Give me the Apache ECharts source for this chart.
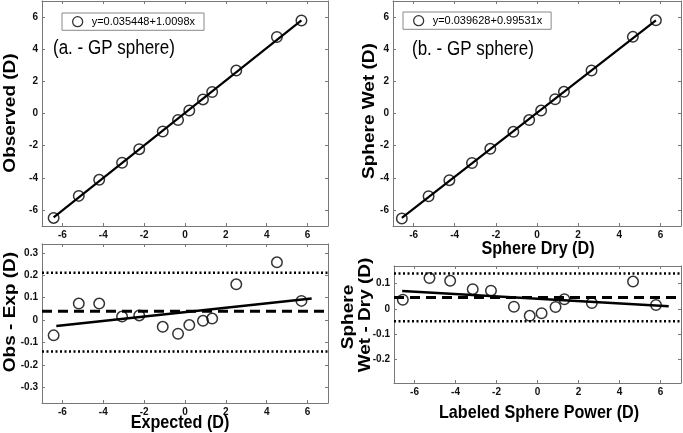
<!DOCTYPE html>
<html><head><meta charset="utf-8">
<script src="https://cdn.jsdelivr.net/npm/echarts@6/dist/echarts.min.js"></script>
<style>html,body{margin:0;padding:0;background:#fff}#c{width:683px;height:433px}</style>
</head><body><div id="c"></div>
<script>
// ---- data ----
const expected    = [-6.43, -5.2, -4.2, -3.08, -2.24, -1.09, -0.34, 0.21, 0.88, 1.33, 2.51, 4.5, 5.7];
const observed    = [-6.498, -5.126, -4.126, -3.064, -2.219, -1.12, -0.401, 0.188, 0.877, 1.337, 2.67, 4.758, 5.786];
const obsMinusExp = [-0.068, 0.074, 0.074, 0.016, 0.021, -0.030, -0.061, -0.022, -0.003, 0.007, 0.160, 0.258, 0.086];
const sphereDry   = [-6.57, -5.27, -4.26, -3.16, -2.27, -1.15, -0.38, 0.2, 0.88, 1.31, 2.65, 4.66, 5.78];
const sphereWet   = [-6.534, -5.148, -4.149, -3.082, -2.198, -1.142, -0.408, 0.182, 0.887, 1.348, 2.673, 4.768, 5.795];
const wetMinusDry = [0.036, 0.122, 0.111, 0.078, 0.072, 0.008, -0.028, -0.018, 0.007, 0.038, 0.023, 0.108, 0.015];
const fitA = [0.035448, 1.0098];   // intercept, slope
const fitB = [0.039628, 0.99531];
const residFitRangeA = [-6.3, 6.2];
const residFitRangeB = [-6.6, 6.4];
const limitsA = [0.04, 0.212, -0.14];   // mean, upper, lower
const limitsB = [0.045, 0.14, -0.05];
const fullRange = [-7, 7];
const ticksMain = [-6, -4, -2, 0, 2, 4, 6];
const ticksResA = [-0.3, -0.2, -0.1, 0, 0.1, 0.2, 0.3];
const ticksResB = [-0.2, -0.1, 0, 0.1];
const resRangeA = [-0.37, 0.34];
const resRangeB = [-0.295, 0.17];
const legendA = 'y=0.035448+1.0098x';
const legendB = 'y=0.039628+0.99531x';

const zip = (a, b) => a.map((v, i) => [v, b[i]]);
const fitLine = (f, x0, x1, off) => [[x0, f[0] + (f[1] - off) * x0], [x1, f[0] + (f[1] - off) * x1]];
const fmt = v => String(Math.round(v * 10) / 10);

const grids = [
  {left: 42, top: 1, width: 286, height: 225},
  {left: 393, top: 1, width: 288, height: 225},
  {left: 42, top: 244, width: 286, height: 159},
  {left: 394, top: 266, width: 287, height: 117}
];
const AX = '#777';
function mkAxis(g, pos, ticks, range, showLabel) {
  return {
    type: 'value', gridIndex: g, position: pos, min: range[0], max: range[1],
    axisLine: {show: true, onZero: false, lineStyle: {color: AX, width: 1}},
    axisTick: {show: true, inside: true, length: 3, customValues: ticks, lineStyle: {color: AX}},
    axisLabel: {show: showLabel, customValues: ticks, margin: 4, fontSize: 10, fontWeight: 'bold',
      fontFamily: 'Liberation Sans', color: '#111', formatter: fmt},
    splitLine: {show: false}
  };
}
const xAxes = [], yAxes = [];
const yConf = [[ticksMain, fullRange], [ticksMain, fullRange], [ticksResA, resRangeA], [ticksResB, resRangeB]];
for (let g = 0; g < 4; g++) {
  xAxes.push(mkAxis(g, 'bottom', ticksMain, fullRange, true), mkAxis(g, 'top', ticksMain, fullRange, false));
  yAxes.push(mkAxis(g, 'left', yConf[g][0], yConf[g][1], true), mkAxis(g, 'right', yConf[g][0], yConf[g][1], false));
}

const sym = {color: 'rgba(0,0,0,0)', borderColor: '#000', borderWidth: 1.5};
function scatter(name, g, data) {
  return {type: 'scatter', name, xAxisIndex: 2 * g, yAxisIndex: 2 * g, data, symbol: 'circle',
    symbolSize: 10.5, itemStyle: sym, z: 5, silent: true};
}
function line(g, data, type, width) {
  return {type: 'line', xAxisIndex: 2 * g, yAxisIndex: 2 * g, data, symbol: 'none', silent: true,
    lineStyle: {color: '#000', width, type}, z: 3, animation: false};
}
const series = [
  scatter(legendA, 0, zip(expected, observed)),
  line(0, fitLine(fitA, Math.min(...expected), Math.max(...expected), 0), 'solid', 2.2),
  scatter(legendB, 1, zip(sphereDry, sphereWet)),
  line(1, fitLine(fitB, Math.min(...sphereDry), Math.max(...sphereDry), 0), 'solid', 2.2),
  scatter('resA', 2, zip(expected, obsMinusExp)),
  line(2, fitLine(fitA, residFitRangeA[0], residFitRangeA[1], 1), 'solid', 2.5),
  line(2, [[fullRange[0], limitsA[0]], [fullRange[1], limitsA[0]]], [10, 6], 3),
  line(2, [[fullRange[0], limitsA[1]], [fullRange[1], limitsA[1]]], [2, 2.5], 2.5),
  line(2, [[fullRange[0], limitsA[2]], [fullRange[1], limitsA[2]]], [2, 2.5], 2.5),
  scatter('resB', 3, zip(sphereDry, wetMinusDry)),
  line(3, fitLine(fitB, residFitRangeB[0], residFitRangeB[1], 1), 'solid', 2.5),
  line(3, [[fullRange[0], limitsB[0]], [fullRange[1], limitsB[0]]], [10, 6], 3),
  line(3, [[fullRange[0], limitsB[1]], [fullRange[1], limitsB[1]]], [2, 2.5], 2.5),
  line(3, [[fullRange[0], limitsB[2]], [fullRange[1], limitsB[2]]], [2, 2.5], 2.5)
];

function legend(name, left, top) {
  return {data: [name], left, top, orient: 'horizontal', selectedMode: false,
    backgroundColor: '#fff', borderColor: '#888', borderWidth: 1, borderRadius: 0,
    padding: [3, 9, 3, 10], itemWidth: 10, itemHeight: 10, icon: 'circle',
    itemStyle: {color: 'rgba(0,0,0,0)', borderColor: '#000', borderWidth: 1.3},
    textStyle: {fontSize: 11, fontFamily: 'Liberation Sans', color: '#000', padding: [0, 0, 0, 4]}};
}

const SQ = 0.85; // the reference figure is horizontally squeezed
function txt(text, x, y, style, rotated) {
  const el = {type: 'text', x, y, silent: true, z: 10,
    style: Object.assign({text, fill: '#000', align: 'center', verticalAlign: 'middle'}, style)};
  if (rotated) { el.rotation = Math.PI / 2; el.scaleY = SQ; } else { el.scaleX = SQ; }
  return el;
}
const bold = {fontFamily: 'Liberation Sans', fontWeight: 'bold', fontSize: 19};
const ann = {fontFamily: 'Liberation Sans', fontSize: 20, align: 'left'};
const graphic = [
  txt('Observed (D)', 11, 113, bold, true),
  txt('Sphere Wet (D)', 370, 111, bold, true),
  txt('Obs - Exp (D)', 11, 312, bold, true),
  txt('Sphere', 349, 317, bold, true),
  txt('Wet - Dry (D)', 366, 315, bold, true),
  txt('Sphere Dry (D)', 538, 249, bold, false),
  txt('Expected (D)', 180, 423, bold, false),
  txt('Labeled Sphere Power (D)', 539, 413, bold, false),
  txt('(a. - GP sphere)', 53, 48, ann, false),
  txt('(b. - GP sphere)', 412, 49, ann, false)
];

const chart = echarts.init(document.getElementById('c'), null, {renderer: 'canvas'});
chart.setOption({
  animation: false,
  backgroundColor: '#fff',
  grid: grids,
  xAxis: xAxes,
  yAxis: yAxes,
  legend: [legend(legendA, 62, 13), legend(legendB, 403, 12)],
  graphic,
  series
});
</script>
</body></html>
